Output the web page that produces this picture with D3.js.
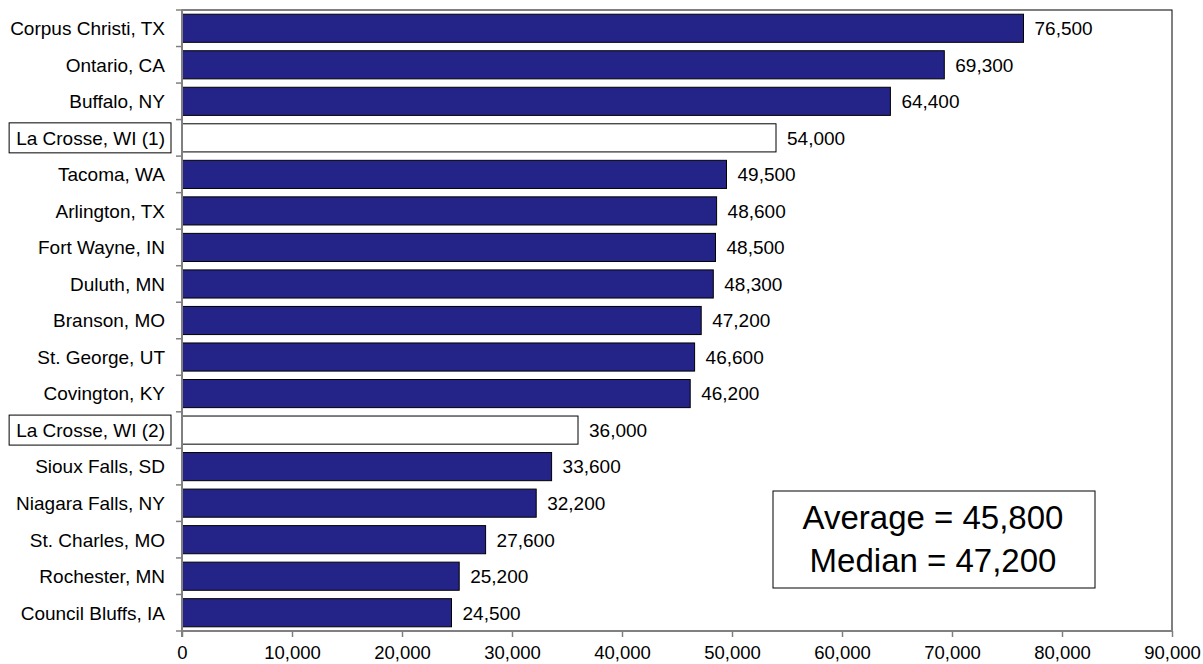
<!DOCTYPE html>
<html>
<head>
<meta charset="utf-8">
<script src="https://cdn.jsdelivr.net/npm/d3@7"></script>
<style>
  html, body { margin: 0; padding: 0; background: #fff; }
  svg { display: block; font-family: Arial, "Liberation Sans", sans-serif; }
</style>
</head>
<body>
<div id="chart"></div>
<script>
const cities = ['Corpus Christi, TX', 'Ontario, CA', 'Buffalo, NY', 'La Crosse, WI (1)', 'Tacoma, WA',
    'Arlington, TX', 'Fort Wayne, IN', 'Duluth, MN', 'Branson, MO', 'St. George, UT', 'Covington, KY',
    'La Crosse, WI (2)', 'Sioux Falls, SD', 'Niagara Falls, NY', 'St. Charles, MO', 'Rochester, MN',
    'Council Bluffs, IA'];
const values = [76500, 69300, 64400, 54000, 49500, 48600, 48500, 48300, 47200, 46600, 46200,
    36000, 33600, 32200, 27600, 25200, 24500];
const highlighted = ['La Crosse, WI (1)', 'La Crosse, WI (2)'];
const xTicks = [0, 10000, 20000, 30000, 40000, 50000, 60000, 70000, 80000, 90000];
const summary = ['Average = 45,800', 'Median = 47,200'];

const w = 1203;
const h = 664;
const pLeft = 182, pRight = 1172, pTop = 10, pBottom = 631;
const barColor = '#232388';
const axisColor = '#808080';
const fmt = d3.format(',');

const data = cities.map((c, i) => ({city: c, value: values[i]}));

const xScale = d3.scaleLinear().domain([0, 90000]).range([pLeft, pRight]);
const yScale = d3.scaleBand().domain(cities).range([pTop, pBottom]);
const pad = 0.23;

const svg = d3.select('#chart').append('svg')
    .attr('width', w)
    .attr('height', h);

// plot frame
svg.append('rect')
    .attr('x', pLeft).attr('y', pTop)
    .attr('width', pRight - pLeft).attr('height', pBottom - pTop)
    .attr('fill', 'none')
    .attr('stroke', '#000')
    .attr('stroke-width', 1);

// bars
svg.selectAll('.bar')
    .data(data)
    .enter()
    .append('rect')
    .attr('class', 'bar')
    .attr('x', xScale(0))
    .attr('y', d => yScale(d.city) + yScale.bandwidth() * pad / 2)
    .attr('width', d => xScale(d.value) - xScale(0))
    .attr('height', yScale.bandwidth() * (1 - pad))
    .attr('fill', d => highlighted.includes(d.city) ? '#fff' : barColor)
    .attr('stroke', '#000')
    .attr('stroke-width', 1);

// value labels
svg.selectAll('.value')
    .data(data)
    .enter()
    .append('text')
    .attr('class', 'value')
    .attr('x', d => xScale(d.value) + 11)
    .attr('y', d => yScale(d.city) + yScale.bandwidth() / 2)
    .attr('dy', '0.36em')
    .attr('font-size', '19px')
    .attr('fill', '#000')
    .text(d => fmt(d.value));

// category labels
const catLabels = svg.selectAll('.cat')
    .data(data)
    .enter()
    .append('text')
    .attr('class', 'cat')
    .attr('x', pLeft - 17)
    .attr('y', d => yScale(d.city) + yScale.bandwidth() / 2)
    .attr('dy', '0.36em')
    .attr('text-anchor', 'end')
    .attr('font-size', '19px')
    .attr('fill', '#000')
    .text(d => d.city);

// boxes round highlighted labels
catLabels.filter(d => highlighted.includes(d.city)).each(function (d) {
    const b = this.getBBox();
    svg.insert('rect', '.cat')
        .attr('x', b.x - 7)
        .attr('y', yScale(d.city) + yScale.bandwidth() / 2 - 15)
        .attr('width', b.width + 13)
        .attr('height', 30)
        .attr('fill', '#fff')
        .attr('stroke', '#000')
        .attr('stroke-width', 1);
});

// left axis with ticks at category boundaries
const leftAxis = svg.append('g');
leftAxis.append('line')
    .attr('x1', pLeft).attr('x2', pLeft)
    .attr('y1', pTop).attr('y2', pBottom + 6)
    .attr('stroke', axisColor).attr('stroke-width', 2);
leftAxis.selectAll('.ytick')
    .data(cities.map(c => yScale(c)).concat([pBottom]))
    .enter()
    .append('line')
    .attr('x1', pLeft - 6).attr('x2', pLeft)
    .attr('y1', d => d).attr('y2', d => d)
    .attr('stroke', axisColor).attr('stroke-width', 1.5);

// bottom axis
const xAxis = d3.axisBottom(xScale)
    .tickValues(xTicks)
    .tickFormat(fmt)
    .tickSize(6)
    .tickPadding(9);

const gx = svg.append('g')
    .attr('transform', `translate(0, ${pBottom})`)
    .call(xAxis);
gx.select('.domain')
    .attr('d', `M${pLeft - 1},0H${pRight + 1}`)
    .attr('stroke', axisColor)
    .attr('stroke-width', 2);
gx.selectAll('.tick line').attr('stroke', axisColor).attr('stroke-width', 1.5);
gx.selectAll('.tick text')
    .attr('font-size', '18.5px')
    .attr('font-family', 'Arial, "Liberation Sans", sans-serif')
    .attr('fill', '#000');

// summary box
const box = svg.append('g');
box.append('rect')
    .attr('x', 773).attr('y', 491)
    .attr('width', 322).attr('height', 97)
    .attr('fill', '#fff')
    .attr('stroke', '#000')
    .attr('stroke-width', 1);
box.selectAll('text')
    .data(summary)
    .enter()
    .append('text')
    .attr('x', 933)
    .attr('y', (d, i) => 529 + i * 43)
    .attr('text-anchor', 'middle')
    .attr('font-size', '33px')
    .attr('fill', '#000')
    .text(d => d);
</script>
</body>
</html>
